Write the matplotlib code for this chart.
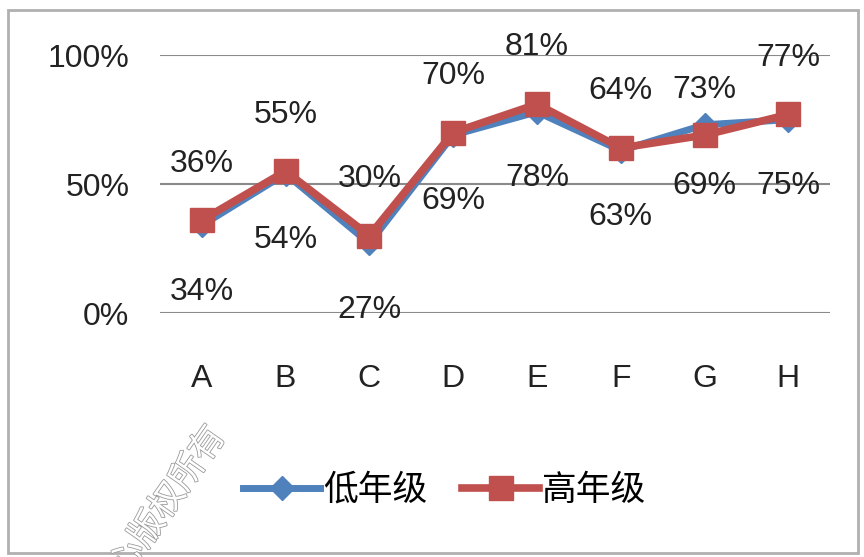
import matplotlib
matplotlib.use("Agg")
import matplotlib.pyplot as plt
from matplotlib.patches import Rectangle
import matplotlib.patheffects as pe

categories = ["A", "B", "C", "D", "E", "F", "G", "H"]
low_grade = [34, 54, 27, 69, 78, 63, 73, 75]
high_grade = [36, 55, 30, 70, 81, 64, 69, 77]
y_ticks = [0, 50, 100]
y_tick_labels = ["0%", "50%", "100%"]
series_names = ["低年级", "高年级"]

fams = ["Liberation Sans", "Noto Sans CJK SC", "DejaVu Sans"]
plt.rcParams["font.family"] = fams

fig = plt.figure(figsize=(8.64, 5.57), dpi=100)
ax = fig.add_axes([0.185, 0.438, 0.776, 0.463])

x = list(range(len(categories)))
blue = "#4F81BD"
red = "#C0504D"
ax.plot(x, low_grade, color=blue, lw=5, marker="D", ms=12, mfc=blue, mec=blue, label=series_names[0], zorder=3)
ax.plot(x, high_grade, color=red, lw=5.5, marker="s", ms=17, mfc=red, mec=red, label=series_names[1], zorder=4)

for i in x:
    lo, hi = low_grade[i], high_grade[i]
    top_v, bot_v = max(lo, hi), min(lo, hi)
    swapped = lo > hi
    up = 14 if swapped else 30
    down = -26 if swapped else -37
    ax.annotate(f"{top_v}%", (i, top_v), xytext=(0, up), textcoords="offset points",
                ha="center", va="bottom", fontsize=23, color="#222222", zorder=5)
    ax.annotate(f"{bot_v}%", (i, bot_v), xytext=(0, down), textcoords="offset points",
                ha="center", va="top", fontsize=23, color="#222222", zorder=5)

ax.set_xlim(-0.5, len(categories) - 0.5)
ax.set_ylim(0, 100)
ax.set_yticks(y_ticks)
ax.set_yticklabels(y_tick_labels)
ax.set_xticks(x)
ax.set_xticklabels(categories)
ax.tick_params(axis="y", length=0, pad=22, labelsize=23, labelcolor="#222222")
ax.tick_params(axis="x", length=0, pad=37, labelsize=23, labelcolor="#222222")
ax.grid(axis="y", color="#8a8a8a", lw=1.5)
ax.set_axisbelow(True)
for s in ax.spines.values():
    s.set_visible(False)

fig.legend(loc="center", bbox_to_anchor=(0.515, 0.12), ncol=2, frameon=False,
           handlelength=2.2, handletextpad=0.1, columnspacing=1.0,
           prop={"family": ["Noto Sans CJK SC", "DejaVu Sans"], "size": 25})

fig.patches.append(Rectangle((8 / 864, 4 / 557), 850 / 864, 543 / 557, transform=fig.transFigure,
                             fill=False, edgecolor="#b0b0b0", lw=2))

fig.text(0.195, 0.1, "心版权所有", rotation=55, fontsize=25, color="white",
         family=["Noto Sans CJK SC", "DejaVu Sans"], ha="center", va="center",
         path_effects=[pe.withStroke(linewidth=1.2, foreground="#9a9a9a")])

fig.savefig("out.png", dpi=100)
